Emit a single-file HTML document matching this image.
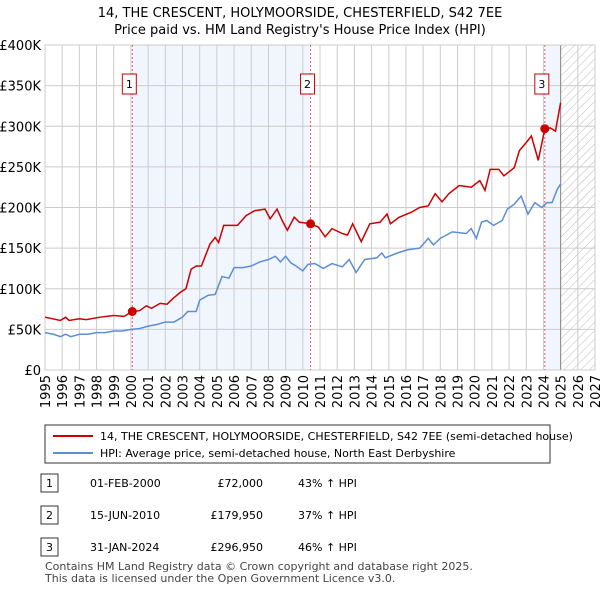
<!DOCTYPE html>
<html><head><meta charset="utf-8"><style>
body{margin:0;background:#fff;font-family:"Liberation Sans","DejaVu Sans",sans-serif;}
svg text{font-family:"DejaVu Sans","Liberation Sans",sans-serif;}
</style></head><body>
<svg width="600" height="590" viewBox="0 0 600 590" xmlns="http://www.w3.org/2000/svg">
<defs><pattern id="hatch" width="6" height="6" patternUnits="userSpaceOnUse" patternTransform="rotate(45)"><line x1="0" y1="0" x2="0" y2="6" stroke="#bbb" stroke-width="1"/></pattern></defs>
<text x="300" y="17" text-anchor="middle" font-size="13">14, THE CRESCENT, HOLYMOORSIDE, CHESTERFIELD, S42 7EE</text>
<text x="300" y="34" text-anchor="middle" font-size="13">Price paid vs. HM Land Registry's House Price Index (HPI)</text>
<g id="plot"></g>
<g>
<rect x="45" y="425" width="505" height="38" fill="#fff" stroke="#333"/>
<line x1="53" y1="436" x2="93" y2="436" stroke="#cc0000" stroke-width="2"/>
<text x="100" y="440" font-size="11">14, THE CRESCENT, HOLYMOORSIDE, CHESTERFIELD, S42 7EE (semi-detached house)</text>
<line x1="53" y1="453" x2="93" y2="453" stroke="#5b8ed6" stroke-width="2"/>
<text x="100" y="457" font-size="11">HPI: Average price, semi-detached house, North East Derbyshire</text>
</g>
<g font-size="11">
<rect x="41" y="474" width="17" height="18" fill="#fff" stroke="#333"/><text x="49.5" y="487" text-anchor="middle">1</text>
<text x="90" y="487">01-FEB-2000</text><text x="263" y="487" text-anchor="end">£72,000</text><text x="298" y="487">43% ↑ HPI</text>
<rect x="41" y="506" width="17" height="18" fill="#fff" stroke="#333"/><text x="49.5" y="519" text-anchor="middle">2</text>
<text x="90" y="519">15-JUN-2010</text><text x="263" y="519" text-anchor="end">£179,950</text><text x="298" y="519">37% ↑ HPI</text>
<rect x="41" y="538" width="17" height="18" fill="#fff" stroke="#333"/><text x="49.5" y="551" text-anchor="middle">3</text>
<text x="90" y="551">31-JAN-2024</text><text x="263" y="551" text-anchor="end">£296,950</text><text x="298" y="551">46% ↑ HPI</text>
</g>
<text x="45" y="570" font-size="11" fill="#444">Contains HM Land Registry data © Crown copyright and database right 2025.</text>
<text x="45" y="582" font-size="11" fill="#444">This data is licensed under the Open Government Licence v3.0.</text>
</svg>
<script>
const yTicks=[0,50,100,150,200,250,300,350,400];
const yTickLabels=["£0","£50K","£100K","£150K","£200K","£250K","£300K","£350K","£400K"];
const xYears=[1995,1996,1997,1998,1999,2000,2001,2002,2003,2004,2005,2006,2007,2008,2009,2010,2011,2012,2013,2014,2015,2016,2017,2018,2019,2020,2021,2022,2023,2024,2025,2026,2027];
const hpiT=[1995.0,1995.5,1995.9,1996.2,1996.5,1997,1997.5,1998,1998.5,1999,1999.5,2000,2000.5,2001,2001.5,2002,2002.5,2003,2003.3,2003.8,2004,2004.5,2004.9,2005.3,2005.7,2006,2006.5,2007,2007.5,2008,2008.4,2008.7,2009,2009.3,2009.6,2010,2010.3,2010.7,2011.2,2011.7,2012.3,2012.7,2013.1,2013.6,2014.3,2014.6,2014.8,2015.5,2016.1,2016.8,2017.3,2017.6,2018,2018.7,2019.5,2019.8,2020.1,2020.4,2020.7,2021.1,2021.6,2021.9,2022.3,2022.7,2023.1,2023.5,2023.9,2024.2,2024.5,2024.8,2025.0];
const hpiV=[46,44,41,44,41,44,44,46,46,48,48,50,51,54,56,59,59,65,72,72,86,92,93,115,113,126,126,128,133,136,140,133,140,132,128,122,130,131,125,131,127,136,120,136,138,144,138,144,148,150,162,154,162,170,168,174,162,182,184,178,184,198,204,214,192,206,200,206,206,222,229];
const priceT=[1995,1995.9,1996.2,1996.4,1997,1997.4,1998.2,1999,1999.6,2000.08,2000.5,2000.9,2001.2,2001.7,2002.1,2002.5,2002.9,2003.2,2003.5,2003.8,2004.1,2004.6,2004.9,2005.1,2005.4,2005.8,2006.2,2006.7,2007.2,2007.8,2008.1,2008.5,2008.8,2009.1,2009.5,2009.8,2010.45,2010.9,2011.3,2011.7,2012.3,2012.6,2012.9,2013.4,2013.9,2014.5,2014.9,2015.1,2015.6,2016.3,2016.8,2017.3,2017.7,2018.1,2018.5,2019.1,2019.8,2020.3,2020.6,2020.9,2021.4,2021.7,2022.3,2022.6,2023.0,2023.3,2023.7,2024.08,2024.4,2024.7,2025.0];
const priceV=[65,61,65,61,63,62,65,67,66,72,73,79,76,82,81,89,96,100,124,128,128,155,163,157,178,178,178,190,196,198,186,198,184,172,188,182,179.95,176,164,174,168,166,180,158,180,182,192,180,188,194,200,202,217,207,217,227,225,233,221,247,247,239,249,270,280,288,258,296.95,298,294,329];
const saleT=[2000.08,2010.45,2024.08];
const saleV=[72,179.95,296.95];
const saleLabels=["1","2","3"];
const L=45,R=595,T=45,B=370,x0=1995,x1=2027,yMax=400;
const X=t=>L+(t-x0)/(x1-x0)*(R-L);
const Y=v=>B-v/yMax*(B-T);
const NS="http://www.w3.org/2000/svg";
const g=document.getElementById('plot');
function mk(tag,attrs,parent){const e=document.createElementNS(NS,tag);for(const k in attrs)e.setAttribute(k,attrs[k]);(parent||g).appendChild(e);return e;}
let e;
e=mk('rect',{x:X(saleT[0]),y:T,width:X(saleT[1])-X(saleT[0]),height:B-T,fill:'#eef3fc',opacity:0.8});


e=mk('rect',{x:X(saleT[2]),y:T,width:X(2025)-X(saleT[2]),height:B-T,fill:'#eef3fc',opacity:0.8});


e=mk('rect',{x:X(2025),y:T,width:R-X(2025),height:B-T,fill:'url(#hatch)'});


yTicks.forEach((v,i)=>{
 e=mk('line',{x1:L,x2:R,y1:Y(v),y2:Y(v),stroke:'#ccc','stroke-width':1});
 
 
 e=mk('text',{x:L-4,y:Y(v)+5,'text-anchor':'end','font-size':13});
 e.textContent=yTickLabels[i];
 
 
});
xYears.forEach(yr=>{
 e=mk('line',{x1:X(yr),x2:X(yr),y1:T,y2:B,stroke:'#ccc','stroke-width':1});
 
 
 e=mk('text',{x:0,y:0,'text-anchor':'end','font-size':13,transform:`translate(${X(yr)+5},${B+5}) rotate(-90)`});
 e.textContent=yr;
 
 
});
e=mk('line',{x1:X(2025),x2:X(2025),y1:T,y2:B,stroke:'#888','stroke-width':1});


e=mk('rect',{x:L,y:T,width:R-L,height:B-T,fill:'none',stroke:'#ccc'});


saleT.forEach((t,i)=>{
 e=mk('line',{x1:X(t),x2:X(t),y1:T,y2:B,stroke:'#e06060','stroke-width':1,'stroke-dasharray':'2,2'});
 
 
});
e=mk('polyline',{points:hpiT.map((t,i)=>X(t)+','+Y(hpiV[i])).join(' '),fill:'none',stroke:'#5b8ed6','stroke-width':1.5});


e=mk('polyline',{points:priceT.map((t,i)=>X(t)+','+Y(priceV[i])).join(' '),fill:'none',stroke:'#cc0000','stroke-width':1.5});


saleT.forEach((t,i)=>{
 e=mk('circle',{cx:X(t),cy:Y(saleV[i]),r:4.5,fill:'#cc0000'});
 
 
 e=mk('rect',{x:X(t)-10,y:74,width:14,height:20,fill:'#fff',stroke:'#cc0000'});
 
 
 e=mk('text',{x:X(t)-3,y:88,'text-anchor':'middle','font-size':11});
 e.textContent=saleLabels[i];
 
 
});
</script>
</body></html>
